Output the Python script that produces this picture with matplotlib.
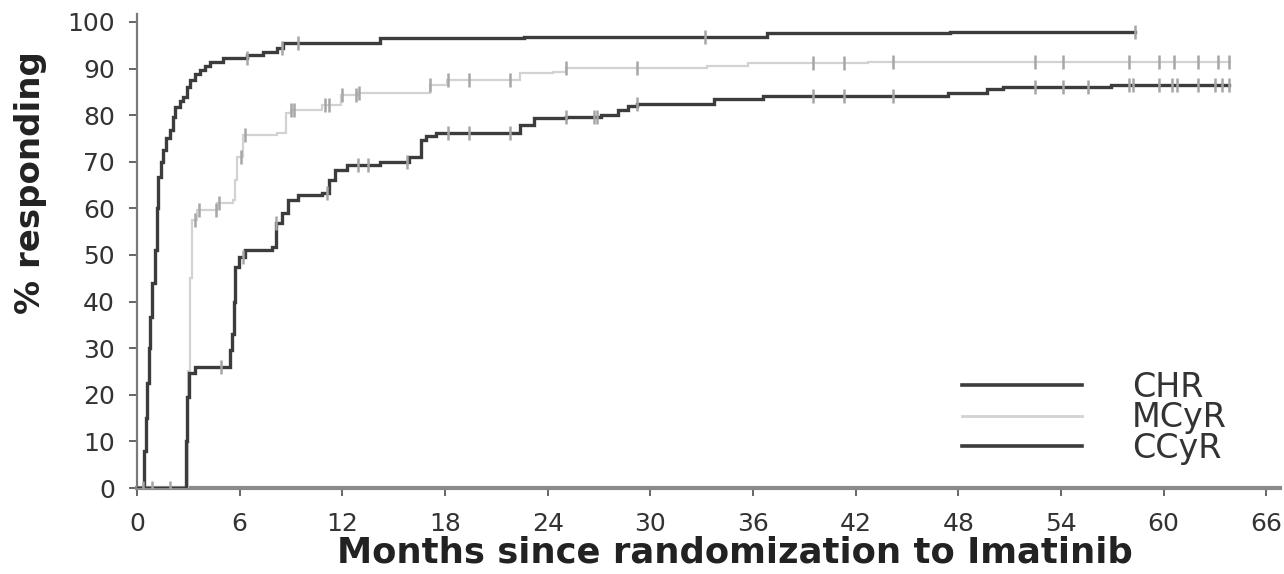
import numpy as np
import matplotlib
matplotlib.use('Agg')
import matplotlib.pyplot as plt
from matplotlib.lines import Line2D

plt.rcParams['font.family'] = ['DejaVu Sans']

# CHR - complete hematologic response
chr_t = [0, 0.35, 0.41, 0.5, 0.6, 0.68, 0.76, 0.9, 1.05, 1.15, 1.23, 1.4, 1.52, 1.7, 1.93,
         2.1, 2.22, 2.5, 2.69, 2.9, 3.1, 3.4, 3.68, 4.0, 4.27, 5.03, 6.43, 7.37, 8.19,
         8.54, 14.2, 22.6, 36.8, 47.5, 58.3]
chr_y = [0, 0, 8, 15, 22.5, 30, 36.7, 44, 51, 60, 66.7, 70, 72.5, 75, 76.8,
         79.5, 81.8, 83, 83.9, 86, 87.6, 88.8, 89.7, 90.6, 91.4, 92.3, 92.9, 93.6, 94.4,
         95.5, 96.6, 96.8, 97.6, 97.9, 97.9]
chr_cens = [6.4, 8.5, 9.4, 33.2, 58.3]

# MCyR - major cytogenetic response
mcyr_t = [0, 3.0, 3.1, 3.2, 3.5, 4.7, 5.6, 5.7, 5.85, 6.2, 8.2, 8.7, 9.0, 10.8, 11.9,
          12.9, 17.1, 18.1, 22.4, 24.3, 25.1, 33.3, 35.7, 42.7, 63.9]
mcyr_y = [0, 25, 45, 57.5, 59.7, 61.2, 61.8, 66, 71, 75.8, 76.2, 80.5, 81.1, 82.2, 84.3,
          84.8, 86.5, 87.6, 89.1, 89.3, 90.1, 90.6, 91.2, 91.5, 91.5]
mcyr_cens = [3.4, 3.6, 4.6, 4.8, 6.1, 6.3, 9.0, 9.2, 11.0, 11.2, 12.0, 12.8, 13.0, 17.1,
             18.2, 19.4, 21.8, 25.1, 29.2, 39.5, 41.3, 44.2, 52.5, 54.1, 58.0, 59.7,
             60.6, 62.0, 63.2, 63.8]

# CCyR - complete cytogenetic response
ccyr_t = [0, 2.85, 2.95, 3.05, 3.4, 5.45, 5.55, 5.65, 5.75, 5.95, 6.3, 7.9, 8.1, 8.5,
          8.8, 9.4, 10.8, 11.2, 11.6, 12.3, 14.2, 15.9, 16.6, 16.9, 17.5, 22.4, 23.2,
          25.1, 27.1, 28.1, 28.7, 29.2, 33.7, 36.6, 47.4, 49.7, 50.6, 56.9, 63.8]
ccyr_y = [0, 10, 19.5, 24.7, 26, 29.6, 33, 40, 47.4, 49.6, 51.1, 51.7, 56.9, 59,
          61.8, 62.9, 63.3, 66, 68.2, 69.3, 70, 71, 74.7, 75.5, 76.2, 77.9, 79.4,
          79.6, 80, 81.1, 82, 82.4, 83.5, 84.1, 84.8, 85.6, 86, 86.5, 86.5]
ccyr_cens = [0.35, 0.9, 1.9, 4.9, 6.2, 8.1, 11.1, 12.9, 13.5, 15.8, 18.2, 19.4, 21.8,
             25.1, 26.7, 26.9, 29.2, 39.5, 41.3, 44.2, 52.5, 54.1, 55.6, 58.0, 58.2,
             59.7, 60.5, 60.8, 62.0, 63.0, 63.4, 63.8]

series = [
    ('CHR', chr_t, chr_y, chr_cens, '#3c3c3c', 2.4),
    ('MCyR', mcyr_t, mcyr_y, mcyr_cens, '#d2d2d2', 1.6),
    ('CCyR', ccyr_t, ccyr_y, ccyr_cens, '#3c3c3c', 2.4),
]

fig = plt.figure(figsize=(12.84, 5.74), dpi=100)
ax = fig.add_axes([137/1284, 86/574, (1280-137)/1284, (488-14)/574])

handles = []
for name, t, y, cens, col, lw in series:
    t = np.array(t)
    y = np.array(y)
    ax.plot(t, y, drawstyle='steps-post', color=col, lw=lw, solid_joinstyle='miter', zorder=3)
    idx = np.searchsorted(t, cens, side='right') - 1
    ax.plot(cens, y[idx], ls='none', marker='|', ms=10, mew=1.8, color='#a6a6a6', zorder=4)
    handles.append(Line2D([], [], color=col, lw=2.6 if lw > 2 else 2.0))

ax.set_xlim(0, 66.8)
ax.set_ylim(0, 101.7)
ax.set_xticks(np.arange(0, 67, 6))
ax.set_yticks(np.arange(0, 101, 10))

for s in ['top', 'right']:
    ax.spines[s].set_visible(False)
ax.spines['left'].set_color('#7a7a7a')
ax.spines['left'].set_linewidth(1.6)
ax.spines['bottom'].set_color('#8a8a8a')
ax.spines['bottom'].set_linewidth(3)
ax.tick_params(axis='both', colors='#666666', labelcolor='#333333', labelsize=18,
               length=6, width=1.4)
ax.tick_params(axis='x', pad=11)
ax.tick_params(axis='y', pad=10)

ax.set_xlabel('Months since randomization to Imatinib', fontsize=25.5, fontweight='bold',
              color='#222222')
ax.xaxis.set_label_coords(0.523, -0.1)
ax.set_ylabel('% responding', fontsize=24.5, fontweight='bold', color='#222222')
ax.yaxis.set_label_coords(-0.079, 0.645)

ax.legend(handles, [s[0] for s in series], loc='upper left',
          bbox_to_anchor=(962/1284, (574-371)/574), bbox_transform=fig.transFigure,
          frameon=False, fontsize=24, handlelength=3.6, handletextpad=1.5,
          labelspacing=-0.08, borderpad=0, borderaxespad=0, labelcolor='#333333')

fig.savefig('out.png', dpi=100, facecolor='white')
